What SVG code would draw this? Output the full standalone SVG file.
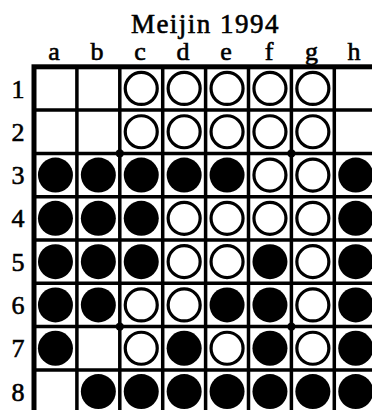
<svg xmlns="http://www.w3.org/2000/svg" width="372" height="410" viewBox="0 0 372 410">
<style>
text{font-family:"Liberation Serif","Times New Roman",serif;fill:#000;stroke:#000;stroke-width:0.6}
.title{font-size:27px;letter-spacing:1.5px;text-anchor:middle}
.col{font-size:26px;text-anchor:middle}
.row{font-size:26px;text-anchor:middle}
.grid{stroke:#000;stroke-width:3.5;fill:none}
.border{stroke:#000;stroke-width:5;fill:none}
.b{fill:#000}
.w{fill:#fff;stroke:#000;stroke-width:3.2}
.star{fill:#000}
</style>
<rect width="372" height="410" fill="#fff"/>
<g id="title"><text class="title" x="205.5" y="32.5">Meijin 1994</text></g>
<g id="col-labels">
<text class="col" x="54" y="59.5">a</text>
<text class="col" x="97" y="59.5">b</text>
<text class="col" x="140" y="59.5">c</text>
<text class="col" x="183" y="59.5">d</text>
<text class="col" x="226" y="59.5">e</text>
<text class="col" x="269" y="59.5">f</text>
<text class="col" x="311.5" y="59.5">g</text>
<text class="col" x="354" y="59.5">h</text>
</g>
<g id="row-labels">
<text class="row" x="18" y="97.5">1</text>
<text class="row" x="18" y="140.8">2</text>
<text class="row" x="18" y="184.1">3</text>
<text class="row" x="18" y="227.4">4</text>
<text class="row" x="18" y="270.7">5</text>
<text class="row" x="18" y="314">6</text>
<text class="row" x="18" y="357.3">7</text>
<text class="row" x="18" y="400.6">8</text>
</g>
<g id="board">
<path class="grid" d="M76.9 66.8V413.2M119.8 66.8V413.2M162.7 66.8V413.2M205.6 66.8V413.2M248.5 66.8V413.2M291.4 66.8V413.2M334.3 66.8V413.2M34 110.1H377.2M34 153.4H377.2M34 196.7H377.2M34 240H377.2M34 283.3H377.2M34 326.6H377.2M34 369.9H377.2"/>
<rect class="border" x="34" y="66.8" width="343.2" height="346.4"/>
<circle class="star" cx="119.8" cy="153.4" r="4.2"/>
<circle class="star" cx="291.4" cy="153.4" r="4.2"/>
<circle class="star" cx="119.8" cy="326.6" r="4.2"/>
<circle class="star" cx="291.4" cy="326.6" r="4.2"/>
</g>
<g id="pieces">
<circle class="w" cx="141.25" cy="88.45" r="16"/>
<circle class="w" cx="184.15" cy="88.45" r="16"/>
<circle class="w" cx="227.05" cy="88.45" r="16"/>
<circle class="w" cx="269.95" cy="88.45" r="16"/>
<circle class="w" cx="312.85" cy="88.45" r="16"/>
<circle class="w" cx="141.25" cy="131.75" r="16"/>
<circle class="w" cx="184.15" cy="131.75" r="16"/>
<circle class="w" cx="227.05" cy="131.75" r="16"/>
<circle class="w" cx="269.95" cy="131.75" r="16"/>
<circle class="w" cx="312.85" cy="131.75" r="16"/>
<circle class="b" cx="55.45" cy="175.05" r="17.5"/>
<circle class="b" cx="98.35" cy="175.05" r="17.5"/>
<circle class="b" cx="141.25" cy="175.05" r="17.5"/>
<circle class="b" cx="184.15" cy="175.05" r="17.5"/>
<circle class="b" cx="227.05" cy="175.05" r="17.5"/>
<circle class="w" cx="269.95" cy="175.05" r="16"/>
<circle class="w" cx="312.85" cy="175.05" r="16"/>
<circle class="b" cx="355.75" cy="175.05" r="17.5"/>
<circle class="b" cx="55.45" cy="218.35" r="17.5"/>
<circle class="b" cx="98.35" cy="218.35" r="17.5"/>
<circle class="b" cx="141.25" cy="218.35" r="17.5"/>
<circle class="w" cx="184.15" cy="218.35" r="16"/>
<circle class="w" cx="227.05" cy="218.35" r="16"/>
<circle class="w" cx="269.95" cy="218.35" r="16"/>
<circle class="w" cx="312.85" cy="218.35" r="16"/>
<circle class="b" cx="355.75" cy="218.35" r="17.5"/>
<circle class="b" cx="55.45" cy="261.65" r="17.5"/>
<circle class="b" cx="98.35" cy="261.65" r="17.5"/>
<circle class="b" cx="141.25" cy="261.65" r="17.5"/>
<circle class="w" cx="184.15" cy="261.65" r="16"/>
<circle class="w" cx="227.05" cy="261.65" r="16"/>
<circle class="b" cx="269.95" cy="261.65" r="17.5"/>
<circle class="w" cx="312.85" cy="261.65" r="16"/>
<circle class="b" cx="355.75" cy="261.65" r="17.5"/>
<circle class="b" cx="55.45" cy="304.95" r="17.5"/>
<circle class="b" cx="98.35" cy="304.95" r="17.5"/>
<circle class="w" cx="141.25" cy="304.95" r="16"/>
<circle class="w" cx="184.15" cy="304.95" r="16"/>
<circle class="b" cx="227.05" cy="304.95" r="17.5"/>
<circle class="b" cx="269.95" cy="304.95" r="17.5"/>
<circle class="w" cx="312.85" cy="304.95" r="16"/>
<circle class="b" cx="355.75" cy="304.95" r="17.5"/>
<circle class="b" cx="55.45" cy="348.25" r="17.5"/>
<circle class="w" cx="141.25" cy="348.25" r="16"/>
<circle class="b" cx="184.15" cy="348.25" r="17.5"/>
<circle class="w" cx="227.05" cy="348.25" r="16"/>
<circle class="b" cx="269.95" cy="348.25" r="17.5"/>
<circle class="w" cx="312.85" cy="348.25" r="16"/>
<circle class="b" cx="355.75" cy="348.25" r="17.5"/>
<circle class="b" cx="98.35" cy="391.55" r="17.5"/>
<circle class="b" cx="141.25" cy="391.55" r="17.5"/>
<circle class="b" cx="184.15" cy="391.55" r="17.5"/>
<circle class="b" cx="227.05" cy="391.55" r="17.5"/>
<circle class="b" cx="269.95" cy="391.55" r="17.5"/>
<circle class="b" cx="312.85" cy="391.55" r="17.5"/>
<circle class="b" cx="355.75" cy="391.55" r="17.5"/>
</g>
</svg>
